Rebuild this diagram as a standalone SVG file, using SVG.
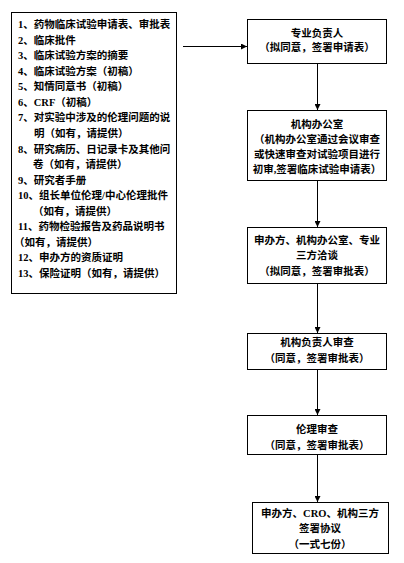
<svg xmlns="http://www.w3.org/2000/svg" width="404" height="563" viewBox="0 0 404 563">
<defs>
<marker id="arr" viewBox="0 0 6 6" refX="6" refY="3" markerWidth="6" markerHeight="6" markerUnits="userSpaceOnUse" orient="auto">
<path d="M0,0 L6,3 L0,6 Z" fill="#000"/>
</marker>
<style>
.box{fill:#fff;stroke:#000;stroke-width:1}
.t{font-family:"Liberation Serif","Noto Sans CJK SC",serif;font-weight:bold;fill:#000}
.l{font-size:10.5px}
.r{font-size:10.5px;text-anchor:middle}
.c{fill:none;stroke:#000;stroke-width:1}
</style>
</defs>
<rect width="404" height="563" fill="#fff"/>
<g id="documents">
<rect class="box" x="11.5" y="12.5" width="165" height="281"/>
<text class="t l" x="18" y="28">1、药物临床试验申请表、审批表</text>
<text class="t l" x="18" y="43.6">2、临床批件</text>
<text class="t l" x="18" y="59.1">3、临床试验方案的摘要</text>
<text class="t l" x="18" y="74.7">4、临床试验方案（初稿）</text>
<text class="t l" x="18" y="90.2">5、知情同意书（初稿）</text>
<text class="t l" x="18" y="105.8">6、CRF（初稿）</text>
<text class="t l" x="18" y="121.4">7、对实验中涉及的伦理问题的说</text>
<text class="t l" x="34" y="136.9">明（如有，请提供）</text>
<text class="t l" x="18" y="152.5">8、研究病历、日记录卡及其他问</text>
<text class="t l" x="33" y="168">卷（如有，请提供）</text>
<text class="t l" x="18" y="183.6">9、研究者手册</text>
<text class="t l" x="18" y="199.2">10、组长单位伦理/中心伦理批件</text>
<text class="t l" x="33" y="214.7">（如有，请提供）</text>
<text class="t l" x="18" y="230.3">11、药物检验报告及药品说明书</text>
<text class="t l" x="14" y="245.8">（如有，请提供）</text>
<text class="t l" x="18" y="261.4">12、申办方的资质证明</text>
<text class="t l" x="18" y="277">13、保险证明（如有，请提供）</text>
</g>
<g id="major-head">
<rect class="box" x="247.5" y="19.5" width="139" height="44"/>
<text class="t r" x="317" y="37">专业负责人</text>
<text class="t r" x="317" y="51">（拟同意，签署申请表）</text>
</g>
<g id="office">
<rect class="box" x="247.5" y="110.5" width="139" height="70"/>
<text class="t r" x="317" y="128">机构办公室</text>
<text class="t r" x="317" y="143">（机构办公室通过会议审查</text>
<text class="t r" x="317" y="158">或快速审查对试验项目进行</text>
<text class="t r" x="317" y="173">初审,签署临床试验申请表）</text>
</g>
<g id="tripartite">
<rect class="box" x="247.5" y="227.5" width="139" height="56"/>
<text class="t r" x="317" y="244">申办方、机构办公室、专业</text>
<text class="t r" x="317" y="259">三方洽谈</text>
<text class="t r" x="317" y="275">（拟同意，签署审批表）</text>
</g>
<g id="inst-head">
<rect class="box" x="247.5" y="333.5" width="139" height="36"/>
<text class="t r" x="317" y="346">机构负责人审查</text>
<text class="t r" x="317" y="362">（同意，签署审批表）</text>
</g>
<g id="ethics">
<rect class="box" x="247.5" y="415.5" width="139" height="39"/>
<text class="t r" x="317" y="433">伦理审查</text>
<text class="t r" x="317" y="449">（同意，签署审批表）</text>
</g>
<g id="agreement">
<rect class="box" x="252.5" y="502.5" width="136" height="51"/>
<text class="t r" x="320" y="517">申办方、CRO、机构三方</text>
<text class="t r" x="320" y="532">签署协议</text>
<text class="t r" x="320" y="548">（一式七份）</text>
</g>
<g id="connectors">
<line class="c" x1="183" y1="46.5" x2="247" y2="46.5" marker-end="url(#arr)"/>
<line class="c" x1="317.5" y1="64" x2="317.5" y2="110" marker-end="url(#arr)"/>
<line class="c" x1="317.5" y1="181" x2="317.5" y2="227" marker-end="url(#arr)"/>
<line class="c" x1="317.5" y1="284" x2="317.5" y2="333" marker-end="url(#arr)"/>
<line class="c" x1="317.5" y1="370" x2="317.5" y2="415" marker-end="url(#arr)"/>
<line class="c" x1="317.5" y1="455" x2="317.5" y2="502" marker-end="url(#arr)"/>
</g>
</svg>
